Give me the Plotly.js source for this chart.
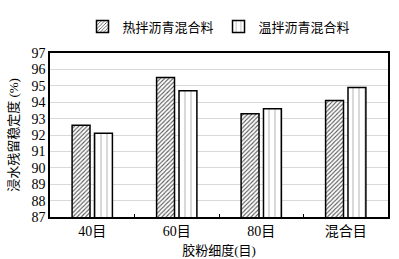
<!DOCTYPE html>
<html>
<head>
<meta charset="utf-8">
<script src="https://cdn.plot.ly/plotly-3.0.1.min.js"></script>
<style>body{margin:0;} #plot1{width:399px;height:259px;}</style>
</head>
<body>
<div id="plot1"></div>
<script>
// categories (rubber powder fineness)
let categories = ["40目", "60目", "80目", "混合目"];

// residual stability values (%)
let hotMix = [92.6, 95.5, 93.3, 94.1];
let warmMix = [92.1, 94.7, 93.6, 94.9];

let font = "Liberation Serif, Times New Roman, Noto Sans CJK SC, serif";

let trace1 = {
    x: categories,
    y: hotMix,
    type: "bar",
    name: "热拌沥青混合料",
    marker: {
        color: "white",
        line: {color: "black", width: 1.5},
        pattern: {shape: "/", fgcolor: "#555", bgcolor: "white", size: 3, solidity: 0.35}
    }
};

let trace2 = {
    x: categories,
    y: warmMix,
    type: "bar",
    name: "温拌沥青混合料",
    marker: {
        color: "white",
        line: {color: "black", width: 1.5},
        pattern: {shape: "|", fgcolor: "#aaa", bgcolor: "white", size: 6, solidity: 0.15}
    }
};

let data = [trace1, trace2];

let layout = {
    width: 399,
    height: 259,
    margin: {l: 50, r: 11, t: 36, b: 42},
    paper_bgcolor: "white",
    plot_bgcolor: "white",
    font: {family: font, size: 14, color: "black"},
    barmode: "group",
    bargap: 0.47,
    bargroupgap: 0.2,
    showlegend: true,
    legend: {
        orientation: "h",
        x: 0.5, xanchor: "center",
        y: 1.07, yanchor: "bottom",
        font: {size: 13, color: "black"}
    },
    xaxis: {
        title: {text: "胶粉细度(目)", font: {size: 13, color: "black"}, standoff: 8},
        showline: true, linecolor: "black", linewidth: 1.5, mirror: true,
        ticks: "inside", tickson: "boundaries", ticklen: 3, tickcolor: "black",
        showgrid: false
    },
    yaxis: {
        title: {text: "浸水残留稳定度 (%)", font: {size: 13, color: "black"}, standoff: 10},
        range: [87, 97],
        dtick: 1,
        showline: true, linecolor: "black", linewidth: 1.5, mirror: true,
        ticks: "",
        gridcolor: "#d9d9d9",
        zeroline: false
    }
};

Plotly.newPlot('plot1', data, layout, {displayModeBar: false});
</script>
</body>
</html>
